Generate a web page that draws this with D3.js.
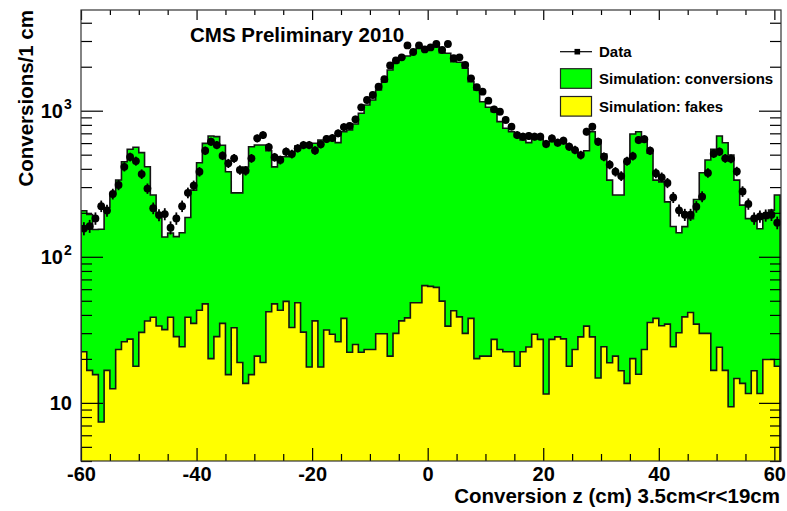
<!DOCTYPE html>
<html>
<head>
<meta charset="utf-8">
<script src="https://cdn.jsdelivr.net/npm/d3@7"></script>
<style>
  body { margin: 0; background: #fff; }
  svg { display: block; font-family: "Liberation Sans", Arial, Helvetica, sans-serif; font-weight: bold; }
</style>
</head>
<body>
<svg id="chart" width="787" height="511"></svg>
<script>
// Conversion z distribution, 1 cm bins starting at z = -60 cm
const binStart = -60;
const binWidth = 1;

const dataCounts = [
  156,162,183,222,207,269,310,413,482,452,
  368,293,215,193,196,158,183,222,274,307,
  382,532,613,582,492,436,472,393,388,472,
  647,681,564,480,460,524,505,553,582,582,
  534,589,640,650,700,773,786,873,1055,1184,
  1281,1460,1643,2040,2207,2321,2797,2523,2797,2625,
  2709,2862,2604,2862,2285,2321,2056,1667,1447,1349,
  1171,1022,984,864,777,681,664,671,664,664,
  592,647,604,623,567,538,497,718,777,613,
  484,427,382,357,451,489,630,638,532,373,
  350,320,255,208,194,194,220,258,375,508,
  524,472,468,384,280,230,183,189,192,194,
  171
];

const simConversions = [
  184,178,138,147,201,257,312,421,517,544,
  486,377,226,164,105,107,109,122,147,251,
  397,550,651,636,545,366,241,255,398,551,
  561,563,490,365,441,434,480,525,543,564,
  562,612,615,617,578,680,716,786,938,1071,
  1161,1356,1550,1879,2102,2249,2331,2448,2628,2613,
  2655,2683,2446,2437,2123,2106,1922,1542,1366,1131,
  1034,957,818,736,696,646,608,580,628,630,
  602,586,570,571,544,515,477,499,690,615,
  481,316,244,248,433,672,702,624,476,297,
  292,203,137,116,122,141,212,346,430,527,
  647,587,488,320,212,171,166,144,163,189,
  247
];

const simFakes = [
  22.4,16.7,15.6,7.4,16.7,12.5,23.2,26.2,27.3,17.8,
  30.4,36.3,38.6,33.6,31.7,38.6,28.4,24.2,38.6,35.0,
  43.1,47.6,20.1,28.4,35.0,15.6,32.7,18.9,13.6,15.6,
  20.9,18.9,42.0,47.6,43.1,49.5,32.8,48.4,30.5,17.6,
  36.4,17.6,31.5,29.5,26.2,37.9,22.2,25.1,22.2,23.2,
  23.2,29.7,29.7,20.9,29.9,36.4,38.2,48.4,48.4,63.5,
  62.7,61.7,49.7,33.5,42.7,38.8,29.9,37.9,20.1,20.9,
  20.9,27.2,23.2,22.4,22.4,17.8,22.4,24.1,29.5,27.2,
  11.5,27.2,28.3,27.4,17.8,23.2,28.3,33.5,28.3,14.8,
  24.2,18.8,20.9,16.6,13.6,20.1,15.7,23.2,35.5,37.9,
  33.7,34.6,24.2,30.2,38.8,41.6,34.6,29.9,29.9,16.7,
  24.0,16.7,9.4,14.7,13.6,11.6,16.6,11.6,19.8,19.8,
  17.8
];

const xMajorTicks = [-60, -40, -20, 0, 20, 40, 60];
const xMinorTicks = d3.range(-60, 61, 5).filter(v => !xMajorTicks.includes(v));
const yMajorTicks = [10, 100, 1000];
const yTickLabels = [{base: "10", exp: ""}, {base: "10", exp: "2"}, {base: "10", exp: "3"}];
const yMinorTicks = [4,5,6,7,8,9, 20,30,40,50,60,70,80,90, 200,300,400,500,600,700,800,900, 2000,3000,4000];

const legendItems = [
  {label: "Data", kind: "marker"},
  {label: "Simulation: conversions", kind: "box", color: "#00ff00"},
  {label: "Simulation: fakes", kind: "box", color: "#ffff00"}
];

const titleText = "CMS Preliminary 2010";
const xTitle = "Conversion z (cm) 3.5cm<r<19cm";
const yTitle = "Conversions/1 cm";

// ---- frame geometry ----
const frameL = 81, frameR = 781, frameT = 10, frameB = 461;
const yFloor = 4;

const svg = d3.select("#chart");
const x = d3.scaleLinear().domain([-60, 61.15]).range([frameL, frameR]);
const y = d3.scaleLog().domain([yFloor, 4890]).range([frameB, frameT]);

const rows = dataCounts.map((n, i) => ({
  lo: binStart + i * binWidth,
  hi: binStart + (i + 1) * binWidth,
  data: n,
  fake: simFakes[i],
  conv: simConversions[i]
}));

const stacked = d3.stack().keys(["fake", "conv"])(rows);

svg.append("defs").append("clipPath").attr("id", "plotClip")
  .append("rect").attr("x", frameL).attr("y", frameT)
  .attr("width", frameR - frameL).attr("height", frameB - frameT);

const plot = svg.append("g").attr("clip-path", "url(#plotClip)");

// step points for a stacked layer
function steps(layer) {
  const out = [];
  layer.forEach((d, i) => {
    const r = rows[i];
    out.push({x: r.lo, y0: Math.max(d[0], yFloor), y1: d[1]});
    out.push({x: r.hi, y0: Math.max(d[0], yFloor), y1: d[1]});
  });
  return out;
}

const area = d3.area()
  .x(p => x(p.x))
  .y0(p => y(p.y0))
  .y1(p => y(p.y1));

const outline = d3.line().x(p => x(p.x)).y(p => y(p.y1));

const fillColors = ["#ffff00", "#00ff00"];
// total (green) first, then fakes on top
[1, 0].forEach(k => {
  plot.append("path")
    .attr("d", area(steps(stacked[k])))
    .attr("fill", fillColors[k])
    .attr("stroke", "none");
});
[1, 0].forEach(k => {
  const s = steps(stacked[k]);
  const closed = [{x: s[0].x, y1: yFloor}, ...s, {x: s[s.length - 1].x, y1: yFloor}];
  plot.append("path")
    .attr("d", outline(closed))
    .attr("fill", "none")
    .attr("stroke", "#141414")
    .attr("stroke-width", 1.6)
    .attr("stroke-linejoin", "miter");
});

// data points with statistical error bars
const marks = plot.append("g");
rows.forEach(r => {
  const cx = x((r.lo + r.hi) / 2);
  const cy = y(r.data);
  const err = Math.sqrt(r.data);
  marks.append("line")
    .attr("x1", x(r.lo) - 0.5).attr("x2", x(r.hi) + 0.5)
    .attr("y1", cy).attr("y2", cy)
    .attr("stroke", "#000").attr("stroke-width", 1.8);
  marks.append("line")
    .attr("x1", cx).attr("x2", cx)
    .attr("y1", y(r.data + err) - 1.5).attr("y2", y(r.data - err) + 1.5)
    .attr("stroke", "#000").attr("stroke-width", 1.8);
  marks.append("circle")
    .attr("cx", cx).attr("cy", cy).attr("r", 3.9)
    .attr("fill", "#000");
});

// ---- axes (ticks point into the frame) ----
const fmt = d => String(d);
const axB = svg.append("g").attr("transform", `translate(0,${frameB})`)
  .call(d3.axisBottom(x).tickValues(xMajorTicks).tickSize(-13).tickFormat(fmt).tickPadding(0));
axB.select(".domain").remove();
axB.selectAll("text").attr("font-size", 20).attr("font-weight", "bold")
  .attr("font-family", "Liberation Sans, Arial, sans-serif")
  .attr("fill", "#000").attr("dy", null).attr("y", 20);
const axBm = svg.append("g").attr("transform", `translate(0,${frameB})`)
  .call(d3.axisBottom(x).tickValues(xMinorTicks).tickSize(-7).tickFormat(""));
axBm.select(".domain").remove();

const axT = svg.append("g").attr("transform", `translate(0,${frameT})`)
  .call(d3.axisTop(x).tickValues(xMajorTicks).tickSize(-10).tickFormat(""));
axT.select(".domain").remove();
const axTm = svg.append("g").attr("transform", `translate(0,${frameT})`)
  .call(d3.axisTop(x).tickValues(xMinorTicks).tickSize(-5).tickFormat(""));
axTm.select(".domain").remove();

const axL = svg.append("g").attr("transform", `translate(${frameL},0)`)
  .call(d3.axisLeft(y).tickValues(yMajorTicks).tickSize(-22).tickFormat(""));
axL.select(".domain").remove();
const axLm = svg.append("g").attr("transform", `translate(${frameL},0)`)
  .call(d3.axisLeft(y).tickValues(yMinorTicks).tickSize(-11).tickFormat(""));
axLm.select(".domain").remove();

const axR = svg.append("g").attr("transform", `translate(${frameR},0)`)
  .call(d3.axisRight(y).tickValues(yMajorTicks).tickSize(-22).tickFormat(""));
axR.select(".domain").remove();
const axRm = svg.append("g").attr("transform", `translate(${frameR},0)`)
  .call(d3.axisRight(y).tickValues(yMinorTicks).tickSize(-11).tickFormat(""));
axRm.select(".domain").remove();

svg.selectAll(".tick line").attr("stroke", "#000").attr("stroke-width", 1.2);

// y tick labels with powers of ten
yMajorTicks.forEach((v, i) => {
  const lab = yTickLabels[i];
  svg.append("text")
    .attr("x", lab.exp ? 63 : 72)
    .attr("y", y(v) + 7)
    .attr("text-anchor", "end")
    .attr("font-size", 20)
    .text(lab.base);
  if (lab.exp) {
    svg.append("text")
      .attr("x", 64)
      .attr("y", y(v) - 2)
      .attr("font-size", 14)
      .text(lab.exp);
  }
});

// frame
svg.append("rect")
  .attr("x", frameL).attr("y", frameT)
  .attr("width", frameR - frameL).attr("height", frameB - frameT)
  .attr("fill", "none").attr("stroke", "#333").attr("stroke-width", 1.2);

// titles
svg.append("text").attr("x", 190).attr("y", 42.3)
  .attr("font-size", 20.5).text(titleText);

svg.append("text").attr("x", 780).attr("y", 502.5)
  .attr("text-anchor", "end").attr("font-size", 20.5).text(xTitle);

svg.append("text")
  .attr("transform", "translate(33,10) rotate(-90)")
  .attr("text-anchor", "end").attr("font-size", 20.5).text(yTitle);

// legend
const lg = svg.append("g");
const rowY = [51.7, 78.5, 106.3];
legendItems.forEach((item, i) => {
  const cy = rowY[i];
  if (item.kind === "marker") {
    lg.append("line").attr("x1", 560).attr("x2", 592).attr("y1", cy).attr("y2", cy)
      .attr("stroke", "#000").attr("stroke-width", 1.2);
    lg.append("rect").attr("x", 574.5).attr("y", cy - 2.8).attr("width", 5.6).attr("height", 5.6)
      .attr("fill", "#000");
  } else {
    lg.append("rect").attr("x", 560.5).attr("y", cy - 9.8).attr("width", 31).attr("height", 19.6)
      .attr("fill", item.color).attr("stroke", "#222").attr("stroke-width", 1.2);
  }
  lg.append("text").attr("x", 599).attr("y", cy + 5.2)
    .attr("font-size", 15).text(item.label);
});
</script>
</body>
</html>
